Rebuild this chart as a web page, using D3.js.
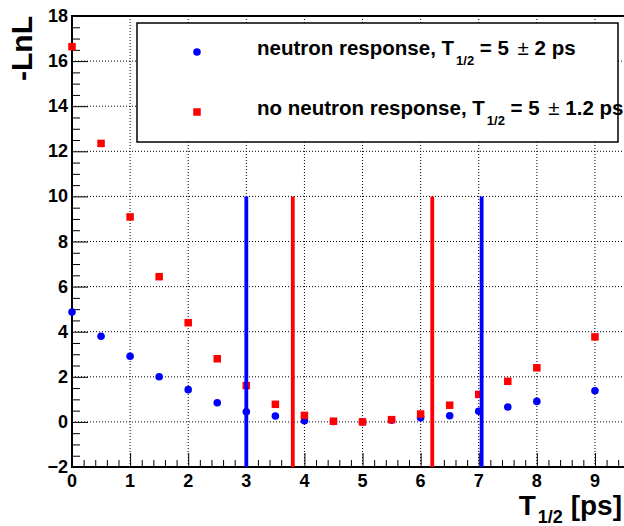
<!DOCTYPE html>
<html>
<head>
<meta charset="utf-8">
<script src="https://cdn.jsdelivr.net/npm/d3@7"></script>
<style>
    body { margin: 0; background: #fff; }
    text { font-family: "Liberation Sans", Arial, sans-serif; font-weight: bold; }
</style>
</head>
<body>
<div id="chart"></div>
<script>
const tHalf = [0, 0.5, 1, 1.5, 2, 2.5, 3, 3.5, 4, 4.5, 5, 5.5, 6, 6.5, 7, 7.5, 8, 9];
const lnlNeutron = [4.87, 3.8, 2.91, 2.0, 1.43, 0.85, 0.45, 0.26, 0.05, 0.02, 0, 0.08, 0.18, 0.27, 0.47, 0.66, 0.91, 1.38];
const lnlNoNeutron = [16.64, 12.35, 9.09, 6.44, 4.4, 2.8, 1.61, 0.78, 0.29, 0.03, 0, 0.1, 0.35, 0.74, 1.22, 1.8, 2.4, 3.77];
const neutronLimits = [3.0, 7.05];
const noNeutronLimits = [3.8, 6.2];
const limitTop = 10;
const xTicks = [0, 1, 2, 3, 4, 5, 6, 7, 8, 9];
const yTicks = [-2, 0, 2, 4, 6, 8, 10, 12, 14, 16, 18];
const legendRows = [
    { label: "neutron response, T", value: "5", err: "2 ps", color: "#0000ff", shape: "circle" },
    { label: "no neutron response, T", value: "5", err: "1.2 ps", color: "#ff0000", shape: "square" }
];

const width = 624;
const height = 526;
const plotLeft = 72, plotTop = 16, plotRight = 624, plotBottom = 467;

const svg = d3
    .select("#chart")
    .append("svg")
    .attr("width", width)
    .attr("height", height);

const x = d3.scaleLinear().domain([0, 9.5]).range([plotLeft, plotRight]);
const y = d3.scaleLinear().domain([-2, 18]).range([plotBottom, plotTop]);

// grid
svg.append("g")
    .selectAll("line")
    .data(xTicks.filter(d => d > 0))
    .enter()
    .append("line")
    .attr("x1", d => x(d)).attr("x2", d => x(d))
    .attr("y1", plotTop).attr("y2", plotBottom)
    .attr("stroke", "#000").attr("stroke-width", 1)
    .attr("stroke-dasharray", "1,2");

svg.append("g")
    .selectAll("line")
    .data(yTicks.filter(d => d > -2 && d < 18))
    .enter()
    .append("line")
    .attr("x1", plotLeft).attr("x2", plotRight)
    .attr("y1", d => y(d)).attr("y2", d => y(d))
    .attr("stroke", "#000").attr("stroke-width", 1)
    .attr("stroke-dasharray", "1,2");

// axes with inward ticks
const xAxis = d3.axisTop(x).tickValues(d3.range(0, 9.5001, 0.2)).tickSize(7).tickFormat("");
svg.append("g")
    .attr("transform", `translate(0,${plotBottom})`)
    .call(xAxis)
    .call(g => g.select(".domain").remove())
    .call(g => g.selectAll(".tick line")
        .attr("y2", d => Math.abs(d - Math.round(d)) < 1e-6 ? -14 : -7));

const yAxis = d3.axisRight(y).tickValues(d3.range(-2, 18.001, 0.5)).tickSize(8).tickFormat("");
svg.append("g")
    .attr("transform", `translate(${plotLeft},0)`)
    .call(yAxis)
    .call(g => g.select(".domain").remove())
    .call(g => g.selectAll(".tick line")
        .attr("x2", d => Math.abs(d / 2 - Math.round(d / 2)) < 1e-6 ? 16 : 8));

// tick labels
svg.append("g")
    .selectAll("text")
    .data(xTicks)
    .enter()
    .append("text")
    .attr("x", d => x(d))
    .attr("y", plotBottom + 20)
    .attr("text-anchor", "middle")
    .attr("font-size", "18px")
    .text(d => d);

svg.append("g")
    .selectAll("text")
    .data(yTicks)
    .enter()
    .append("text")
    .attr("x", plotLeft - 4)
    .attr("y", d => y(d) + 6)
    .attr("text-anchor", "end")
    .attr("font-size", "18px")
    .text(d => d < 0 ? "\u2212" + Math.abs(d) : d);

// frame
svg.append("rect")
    .attr("x", plotLeft).attr("y", plotTop)
    .attr("width", plotRight + 2 - plotLeft).attr("height", plotBottom - plotTop)
    .attr("fill", "none").attr("stroke", "#000").attr("stroke-width", 2);

// markers
svg.append("g")
    .selectAll("circle")
    .data(tHalf)
    .enter()
    .append("circle")
    .attr("cx", d => x(d))
    .attr("cy", (d, i) => y(lnlNeutron[i]))
    .attr("r", 3.8)
    .attr("fill", "#0000ff");

svg.append("g")
    .selectAll("rect")
    .data(tHalf)
    .enter()
    .append("rect")
    .attr("x", d => x(d) - 3.75)
    .attr("y", (d, i) => y(lnlNoNeutron[i]) - 3.75)
    .attr("width", 7.5).attr("height", 7.5)
    .attr("fill", "#ff0000");

// limit lines
const limits = neutronLimits.map(v => ({ v, c: "#0000ff" }))
    .concat(noNeutronLimits.map(v => ({ v, c: "#ff0000" })));
svg.append("g")
    .selectAll("line")
    .data(limits)
    .enter()
    .append("line")
    .attr("x1", d => x(d.v)).attr("x2", d => x(d.v))
    .attr("y1", y(-2)).attr("y2", y(limitTop))
    .attr("stroke", d => d.c)
    .attr("stroke-width", 3.8);

// legend
const legend = svg.append("g");
legend.append("rect")
    .attr("x", 137).attr("y", 23)
    .attr("width", 481).attr("height", 119)
    .attr("fill", "#fff").attr("stroke", "#000").attr("stroke-width", 1.5);

const row = legend.selectAll(".legend")
    .data(legendRows)
    .enter()
    .append("g")
    .attr("class", "legend")
    .attr("transform", (d, i) => `translate(0,${52 + i * 60})`);

row.filter(d => d.shape === "circle")
    .append("circle")
    .attr("cx", 197).attr("cy", 0).attr("r", 3.8)
    .attr("fill", d => d.color);
row.filter(d => d.shape === "square")
    .append("rect")
    .attr("x", 193.25).attr("y", -3.75).attr("width", 7.5).attr("height", 7.5)
    .attr("fill", d => d.color);

const lt = row.append("text")
    .attr("x", 257).attr("y", 2.5)
    .attr("font-size", "20.5px");
lt.append("tspan").text(d => d.label);
lt.append("tspan").attr("dx", 2).attr("dy", 10).attr("font-size", "13px").text("1/2");
lt.append("tspan").attr("dy", -10).text(d => " = " + d.value + " ");
lt.append("tspan").attr("dx", 3).attr("font-weight", "normal").text("\u00b1");
lt.append("tspan").text(d => " " + d.err);

// axis titles
const xt = svg.append("text")
    .attr("x", 622).attr("y", 515)
    .attr("text-anchor", "end")
    .attr("font-size", "28px");
xt.append("tspan").text("T");
xt.append("tspan").attr("dx", 2).attr("dy", 8).attr("font-size", "18px").text("1/2");
xt.append("tspan").attr("dy", -8).text(" [ps]");

svg.append("text")
    .attr("transform", "translate(32,16) rotate(-90)")
    .attr("text-anchor", "end")
    .attr("font-size", "30px")
    .text("-LnL");
</script>
</body>
</html>
